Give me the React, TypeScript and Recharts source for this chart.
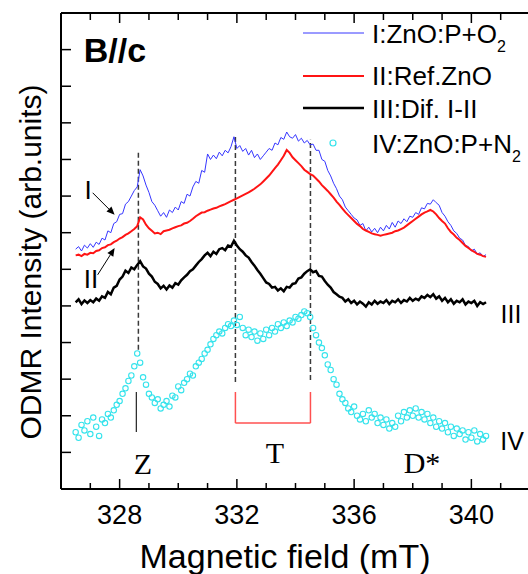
import { ComposedChart, Line, Scatter, XAxis, YAxis, ReferenceLine } from 'recharts'

// magnetic field (mT), one sample every 0.1 mT
const FIELD = [
  326.5, 326.6, 326.7, 326.8, 326.9, 327.0, 327.1, 327.2, 327.3, 327.4,
  327.5, 327.6, 327.7, 327.8, 327.9, 328.0, 328.1, 328.2, 328.3, 328.4,
  328.5, 328.6, 328.7, 328.8, 328.9, 329.0, 329.1, 329.2, 329.3, 329.4,
  329.5, 329.6, 329.7, 329.8, 329.9, 330.0, 330.1, 330.2, 330.3, 330.4,
  330.5, 330.6, 330.7, 330.8, 330.9, 331.0, 331.1, 331.2, 331.3, 331.4,
  331.5, 331.6, 331.7, 331.8, 331.9, 332.0, 332.1, 332.2, 332.3, 332.4,
  332.5, 332.6, 332.7, 332.8, 332.9, 333.0, 333.1, 333.2, 333.3, 333.4,
  333.5, 333.6, 333.7, 333.8, 333.9, 334.0, 334.1, 334.2, 334.3, 334.4,
  334.5, 334.6, 334.7, 334.8, 334.9, 335.0, 335.1, 335.2, 335.3, 335.4,
  335.5, 335.6, 335.7, 335.8, 335.9, 336.0, 336.1, 336.2, 336.3, 336.4,
  336.5, 336.6, 336.7, 336.8, 336.9, 337.0, 337.1, 337.2, 337.3, 337.4,
  337.5, 337.6, 337.7, 337.8, 337.9, 338.0, 338.1, 338.2, 338.3, 338.4,
  338.5, 338.6, 338.7, 338.8, 338.9, 339.0, 339.1, 339.2, 339.3, 339.4,
  339.5, 339.6, 339.7, 339.8, 339.9, 340.0, 340.1, 340.2, 340.3, 340.4,
  340.5,
]

// I: ZnO:P + O2
const I_O2 = [
  6.55, 6.62, 6.50, 6.66, 6.58, 6.70, 6.60, 6.74, 6.68, 6.85,
  6.80, 7.05, 7.00, 7.25, 7.30, 7.50, 7.52, 7.78, 7.85, 8.00,
  8.15, 8.25, 8.72, 8.55, 8.30, 8.10, 7.85, 7.75, 7.60, 7.45,
  7.55, 7.42, 7.62, 7.55, 7.70, 7.62, 7.85, 7.80, 8.05, 8.00,
  8.25, 8.40, 8.35, 8.70, 8.65, 9.15, 9.00, 9.12, 9.02, 9.20,
  9.10, 9.25, 9.18, 9.35, 9.62, 9.30, 9.38, 9.22, 9.30, 9.12,
  9.25, 9.05, 9.15, 9.00, 9.10, 9.20, 9.30, 9.25, 9.45, 9.40,
  9.60, 9.55, 9.75, 9.62, 9.58, 9.68, 9.50, 9.58, 9.45, 9.52,
  9.40, 9.42, 9.25, 9.25, 9.00, 8.95, 8.70, 8.55, 8.35, 8.20,
  8.00, 7.90, 7.70, 7.60, 7.50, 7.40, 7.35, 7.20, 7.25, 7.05,
  7.15, 7.02, 7.12, 7.00, 7.15, 7.05, 7.20, 7.10, 7.28, 7.15,
  7.32, 7.25, 7.38, 7.30, 7.45, 7.42, 7.55, 7.50, 7.68, 7.65,
  7.80, 7.78, 7.90, 7.82, 7.75, 7.55, 7.45, 7.30, 7.20, 7.05,
  6.98, 6.85, 6.80, 6.65, 6.62, 6.50, 6.55, 6.42, 6.45, 6.35,
  6.40,
]

// II: reference ZnO
const II_REF = [
  6.38, 6.40, 6.36, 6.42, 6.40, 6.45, 6.44, 6.50, 6.52, 6.58,
  6.60, 6.66, 6.68, 6.74, 6.78, 6.84, 6.88, 6.94, 6.98, 7.04,
  7.10, 7.18, 7.42, 7.36, 7.22, 7.12, 7.05, 6.98, 7.00, 6.96,
  7.04, 7.06, 7.08, 7.12, 7.15, 7.18, 7.20, 7.25, 7.27, 7.32,
  7.38, 7.45, 7.50, 7.55, 7.56, 7.60, 7.63, 7.66, 7.68, 7.72,
  7.75, 7.78, 7.82, 7.86, 7.90, 7.94, 7.98, 8.02, 8.06, 8.10,
  8.15, 8.20, 8.26, 8.32, 8.40, 8.48, 8.56, 8.66, 8.76, 8.86,
  8.98, 9.10, 9.26, 9.18, 9.06, 8.98, 8.90, 8.82, 8.72, 8.66,
  8.60, 8.56, 8.48, 8.40, 8.30, 8.22, 8.14, 8.05, 7.96, 7.85,
  7.76, 7.66, 7.56, 7.48, 7.40, 7.32, 7.24, 7.18, 7.10, 7.06,
  7.02, 6.98, 6.96, 6.94, 6.92, 6.94, 6.96, 6.98, 7.00, 7.04,
  7.06, 7.10, 7.14, 7.20, 7.26, 7.32, 7.38, 7.44, 7.50, 7.55,
  7.58, 7.62, 7.58, 7.50, 7.40, 7.32, 7.25, 7.12, 7.02, 6.95,
  6.86, 6.80, 6.72, 6.64, 6.58, 6.52, 6.48, 6.42, 6.40, 6.36,
  6.34,
]

// III: difference I-II
const III_DIF = [
  5.10, 5.18, 5.05, 5.15, 5.08, 5.16, 5.10, 5.20, 5.14, 5.26,
  5.22, 5.38, 5.32, 5.50, 5.55, 5.72, 5.80, 5.96, 5.90, 6.05,
  6.00, 6.12, 6.22, 6.08, 6.02, 5.88, 5.80, 5.66, 5.60, 5.48,
  5.55, 5.45, 5.56, 5.50, 5.62, 5.58, 5.70, 5.78, 5.85, 5.95,
  6.00, 6.10, 6.20, 6.28, 6.38, 6.45, 6.36, 6.48, 6.42, 6.55,
  6.58, 6.52, 6.65, 6.62, 6.78, 6.65, 6.55, 6.48, 6.38, 6.32,
  6.20, 6.10, 5.98, 5.88, 5.76, 5.64, 5.60, 5.50, 5.52, 5.42,
  5.48, 5.40, 5.52, 5.50, 5.60, 5.62, 5.75, 5.78, 5.88, 5.95,
  6.00, 5.92, 5.95, 5.82, 5.80, 5.68, 5.58, 5.50, 5.38, 5.32,
  5.25, 5.22, 5.12, 5.18, 5.08, 5.14, 5.04, 5.12, 5.06, 4.98,
  5.10, 5.04, 5.14, 5.06, 5.12, 5.08, 5.16, 5.05, 5.14, 5.10,
  5.18, 5.08, 5.16, 5.12, 5.22, 5.14, 5.20, 5.16, 5.26, 5.22,
  5.30, 5.24, 5.32, 5.20, 5.26, 5.14, 5.22, 5.10, 5.18, 5.06,
  5.14, 5.10, 5.18, 5.04, 5.12, 5.08, 5.14, 5.00, 5.10, 5.05,
  5.10,
]

// IV: ZnO:P + N2
const IV_N2 = [
  1.55, 1.40, 1.75, 1.60, 1.85, 1.50, 1.95, 1.70, 1.45, 1.90,
  1.80, 2.05, 1.95, 2.15, 2.30, 2.40, 2.60, 2.75, 2.95, 3.10,
  3.35, 3.70, 3.45, 3.05, 2.85, 2.60, 2.50, 2.35, 2.45, 2.20,
  2.30, 2.40, 2.25, 2.55, 2.50, 2.80, 2.70, 2.90, 3.00, 3.15,
  3.10, 3.35, 3.45, 3.55, 3.70, 3.80, 3.95, 4.10, 4.20, 4.30,
  4.25, 4.40, 4.50, 4.45, 4.60, 4.48, 4.70, 4.40, 4.20, 4.35,
  4.15, 4.30, 4.05, 4.25, 4.10, 4.35, 4.20, 4.40, 4.30, 4.50,
  4.40, 4.55, 4.45, 4.60, 4.55, 4.70, 4.65, 4.75, 4.85, 4.80,
  4.70, 4.40, 4.20, 4.00, 3.85, 3.65, 3.40, 3.25, 3.00, 2.85,
  2.60, 2.45, 2.35, 2.20, 2.10, 2.25, 2.00, 1.90, 2.05, 1.85,
  2.15, 1.95, 2.05, 1.80, 1.95, 1.75, 1.90, 1.65, 1.80, 1.70,
  2.00, 1.85, 2.10, 1.95, 2.15, 2.00, 2.20, 1.95, 2.10, 1.90,
  2.05, 1.80, 1.95, 1.70, 1.85, 1.65, 1.80, 1.55, 1.70, 1.45,
  1.65, 1.50, 1.60, 1.35, 1.55, 1.40, 1.60, 1.30, 1.50, 1.35,
  1.45,
]

const X_TICKS = [326, 327, 328, 329, 330, 331, 332, 333, 334, 335, 336, 337, 338, 339, 340, 341, 342]
const X_LABELS = [328, 332, 336, 340]
const Y_TICKS = [0, 1, 2, 3, 4, 5, 6, 7, 8, 9, 10, 11, 12, 13]

const SANS = '"Liberation Sans", Arial, sans-serif'
const SERIF = '"Liberation Serif", "Times New Roman", serif'
const BLUE = '#3636ff'
const RED = '#ff1414'
const CYAN = '#35e3ec'
const DASH = '#3a3a3a'

const data = FIELD.map((f, i) => ({
  field: f,
  i: I_O2[i],
  ii: II_REF[i],
  iii: III_DIF[i],
  iv: IV_N2[i],
}))

function BottomTick({ x, y, payload }: any) {
  const major = X_LABELS.includes(payload.value)
  return (
    <g>
      <line x1={x} x2={x} y1={y} y2={y - (major ? 10 : 6)} stroke="#000" strokeWidth={1.5} />
      {major && (
        <text x={x} y={y + 26} textAnchor="middle" dominantBaseline="central" fontSize={27} fontFamily={SANS} fill="#000">
          {payload.value}
        </text>
      )}
    </g>
  )
}

function TopTick({ x, y, payload }: any) {
  const major = X_LABELS.includes(payload.value)
  return <line x1={x} x2={x} y1={y} y2={y + (major ? 10 : 7)} stroke="#000" strokeWidth={1.5} />
}

function LeftTick({ x, y }: any) {
  return <line x1={x} x2={x + 10} y1={y} y2={y} stroke="#000" strokeWidth={1.5} />
}

// pointer arrows for the I / II labels
function Arrow(props: any) {
  const { x1, y1, x2, y2 } = props
  const a = Math.atan2(y2 - y1, x2 - x1)
  const len = 8
  const w = 3.5
  const bx = x2 - len * Math.cos(a)
  const by = y2 - len * Math.sin(a)
  const px = -Math.sin(a) * w
  const py = Math.cos(a) * w
  return (
    <g>
      <line x1={x1} y1={y1} x2={bx} y2={by} stroke="#000" strokeWidth={1} />
      <polygon points={`${x2},${y2} ${bx + px},${by + py} ${bx - px},${by - py}`} fill="#000" />
    </g>
  )
}

const abs = (left: number, top: number, extra: any = {}) => ({
  position: 'absolute' as const,
  left,
  top,
  transform: 'translate(-50%, -50%)',
  whiteSpace: 'nowrap' as const,
  lineHeight: 1,
  color: '#000',
  ...extra,
})

function LegendBox() {
  const txt = { position: 'absolute' as const, left: 372, fontFamily: SANS, fontSize: 26, lineHeight: 1, transform: 'translateY(-50%)', whiteSpace: 'nowrap' as const }
  const sub = { fontSize: 16, position: 'relative' as const, top: 9 }
  return (
    <>
      <svg style={{ position: 'absolute', left: 0, top: 0 }} width={528} height={574}>
        <line x1={303} x2={364} y1={33} y2={33} stroke={BLUE} strokeWidth={1} />
        <line x1={303} x2={364} y1={76} y2={76} stroke={RED} strokeWidth={2} />
        <line x1={303} x2={364} y1={108} y2={108} stroke="#000" strokeWidth={2.5} />
        <circle cx={333} cy={143} r={3} fill="none" stroke={CYAN} strokeWidth={1.2} />
      </svg>
      <div style={{ ...txt, top: 34 }}>I:ZnO:P+O<span style={sub}>2</span></div>
      <div style={{ ...txt, top: 76 }}>II:Ref.ZnO</div>
      <div style={{ ...txt, top: 109 }}>III:Dif. I-II</div>
      <div style={{ ...txt, top: 144 }}>IV:ZnO:P+N<span style={sub}>2</span></div>
    </>
  )
}

export default function App() {
  return (
    <div style={{ position: 'absolute', left: 0, top: 0, width: 528, height: 574, overflow: 'hidden', background: '#fff' }}>
      <ComposedChart width={540} height={574} data={data} margin={{ top: 8, right: 10, bottom: 55, left: 56 }}>
        <XAxis
          dataKey="field"
          type="number"
          domain={[326, 342]}
          ticks={X_TICKS}
          interval={0}
          height={30}
          tickSize={0}
          tickMargin={0}
          tickLine={false}
          tick={<BottomTick />}
          axisLine={{ stroke: '#000', strokeWidth: 2 }}
          allowDataOverflow
        />
        <XAxis
          xAxisId="top"
          orientation="top"
          dataKey="field"
          type="number"
          domain={[326, 342]}
          ticks={X_TICKS}
          interval={0}
          height={5}
          tickSize={0}
          tickMargin={0}
          tickLine={false}
          tick={<TopTick />}
          axisLine={{ stroke: '#000', strokeWidth: 2 }}
          allowDataOverflow
        />
        <YAxis
          type="number"
          domain={[0, 13]}
          ticks={Y_TICKS}
          interval={0}
          width={5}
          tickSize={0}
          tickMargin={0}
          tickLine={false}
          tick={<LeftTick />}
          axisLine={{ stroke: '#000', strokeWidth: 2 }}
          allowDataOverflow
        />

        <ReferenceLine segment={[{ x: 328.64, y: 3.8 }, { x: 328.64, y: 9.21 }]} stroke={DASH} strokeWidth={1.5} strokeDasharray="5 3" ifOverflow="visible" />
        <ReferenceLine segment={[{ x: 328.57, y: 1.56 }, { x: 328.57, y: 2.65 }]} stroke="#222" strokeWidth={1.2} ifOverflow="visible" />
        <ReferenceLine segment={[{ x: 331.95, y: 2.92 }, { x: 331.95, y: 9.67 }]} stroke={DASH} strokeWidth={1.5} strokeDasharray="5 3" ifOverflow="visible" />
        <ReferenceLine segment={[{ x: 334.51, y: 2.98 }, { x: 334.51, y: 9.54 }]} stroke={DASH} strokeWidth={1.5} strokeDasharray="5 3" ifOverflow="visible" />
        <ReferenceLine segment={[{ x: 331.95, y: 1.8 }, { x: 331.95, y: 2.65 }]} stroke="#ff5050" strokeWidth={1.5} ifOverflow="visible" />
        <ReferenceLine segment={[{ x: 331.95, y: 1.8 }, { x: 334.51, y: 1.8 }]} stroke="#ff5050" strokeWidth={1.5} ifOverflow="visible" />
        <ReferenceLine segment={[{ x: 334.51, y: 1.8 }, { x: 334.51, y: 2.65 }]} stroke="#ff5050" strokeWidth={1.5} ifOverflow="visible" />
        <ReferenceLine segment={[{ x: 327.08, y: 8.09 }, { x: 327.83, y: 7.49 }]} shape={(p: any) => <Arrow {...p} />} ifOverflow="visible" />
        <ReferenceLine segment={[{ x: 327.25, y: 5.85 }, { x: 327.83, y: 6.58 }]} shape={(p: any) => <Arrow {...p} />} ifOverflow="visible" />

        <Scatter
          dataKey="iv"
          isAnimationActive={false}
          shape={(p: any) => <circle cx={p.cx} cy={p.cy} r={2.7} fill="none" stroke={CYAN} strokeWidth={1.1} />}
        />
        <Line dataKey="iii" type="linear" stroke="#000" strokeWidth={2.5} dot={false} isAnimationActive={false} />
        <Line dataKey="i" type="linear" stroke={BLUE} strokeWidth={1} dot={false} isAnimationActive={false} />
        <Line dataKey="ii" type="linear" stroke={RED} strokeWidth={2} dot={false} isAnimationActive={false} />
      </ComposedChart>

      <LegendBox />

      <div style={abs(115, 50, { fontFamily: SANS, fontSize: 34, fontWeight: 'bold' })}>B//c</div>
      <div style={abs(88, 190, { fontFamily: SANS, fontSize: 26 })}>I</div>
      <div style={abs(91, 279, { fontFamily: SANS, fontSize: 26 })}>II</div>
      <div style={abs(511, 314, { fontFamily: SANS, fontSize: 25 })}>III</div>
      <div style={abs(512, 441, { fontFamily: SANS, fontSize: 25 })}>IV</div>
      <div style={abs(143, 464, { fontFamily: SERIF, fontSize: 30 })}>Z</div>
      <div style={abs(275, 453, { fontFamily: SERIF, fontSize: 30 })}>T</div>
      <div style={abs(422, 463, { fontFamily: SERIF, fontSize: 30 })}>D*</div>
      <div style={abs(285, 556, { fontFamily: SANS, fontSize: 34 })}>Magnetic field (mT)</div>
      <div style={abs(31, 262, { fontFamily: SANS, fontSize: 30, transform: 'translate(-50%, -50%) rotate(-90deg)' })}>
        ODMR Intensity (arb.units)
      </div>
    </div>
  )
}
